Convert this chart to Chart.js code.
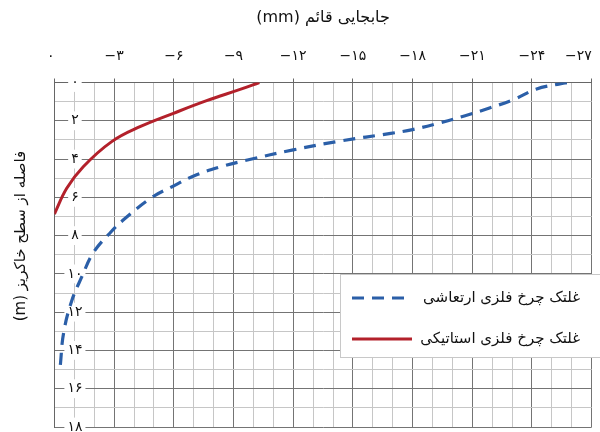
<!DOCTYPE html>
<html>
<head>
<meta charset="utf-8">
<script src="https://cdn.jsdelivr.net/npm/chart.js@4.4.1/dist/chart.umd.min.js"></script>
<style>
  html, body { margin: 0; padding: 0; background: #fff; }
  canvas { display: block; }
</style>
</head>
<body>
<canvas id="settlement" width="600" height="432"></canvas>
<script>
// vertical displacement (mm) vs depth below fill surface (m)
const vibDisp  = [-0.3, -0.46, -0.86, -1.4, -1.95, -2.85, -3.5, -4.9, -6.0, -7.0, -8.3, -9.7, -12.0, -14.4, -16.9, -18.0, -19.4, -20.6, -21.9, -23.1, -24.2, -25.4, -25.8];
const vibDepth = [14.75, 13.1, 11.44, 10.1, 8.9, 7.8, 7.15, 6.0, 5.4, 4.88, 4.42, 4.05, 3.52, 3.05, 2.66, 2.46, 2.1, 1.75, 1.32, 0.88, 0.35, 0.07, 0];

const statDisp  = [0, -0.62, -1.45, -2.88, -4.3, -5.98, -7.65, -9.33, -10.3];
const statDepth = [6.87, 5.53, 4.4, 3.09, 2.31, 1.61, 0.95, 0.36, 0];

const seriesNames = ['غلتک چرخ فلزی ارتعاشی', 'غلتک چرخ فلزی استاتیکی'];
const xTitle = '\u202Bجابجایی قائم (mm)\u202C';
const yTitle = '\u202Bفاصله از سطح خاکریز (m)\u202C';

const xRange = [-27, 0];   // labelled every 3 mm
const yRange = [0, 18];    // labelled every 2 m
const xLabelStep = 3;
const yLabelStep = 2;

const faDigits = '۰۱۲۳۴۵۶۷۸۹';
const fa = v => (v < 0 ? '−' : '') + String(Math.abs(v)).replace(/\d/g, d => faDigits[d]);

const FONT = 'DejaVu Sans';
const MAJOR = '#747474';
const MINOR = '#c6c6c6';

const toPoints = (xs, ys) => xs.map((x, i) => ({ x: x, y: ys[i] }));

// keep the outermost x labels inside the plot width (0 sits left of the border, -27 ends on it)
const edgeLabels = {
  id: 'edgeLabels',
  beforeDraw(chart) {
    chart.scales.x.getLabelItems(chart.chartArea).forEach(item => {
      if (item.label === fa(xRange[0]) || item.label === fa(xRange[1])) item.options.textAlign = 'right';
    });
  }
};

// rotated y title, a little above the middle of the plot
const yAxisTitle = {
  id: 'yAxisTitle',
  afterDraw(chart) {
    const { ctx } = chart;
    ctx.save();
    ctx.translate(21, 236);
    ctx.rotate(-Math.PI / 2);
    ctx.font = '15px "' + FONT + '"';
    ctx.fillStyle = '#111';
    ctx.textAlign = 'center';
    ctx.textBaseline = 'middle';
    ctx.fillText(yTitle, 0, 0);
    ctx.restore();
  }
};

// legend drawn as a white box inside the plot, sample line left of the text
const legendBox = {
  id: 'legendBox',
  afterDatasetsDraw(chart) {
    const { ctx } = chart;
    const left = 340, top = 274, w = 260, h = 84;
    ctx.save();
    ctx.fillStyle = '#fff';
    ctx.fillRect(left, top, w, h);
    ctx.strokeStyle = '#c8c8c8';
    ctx.lineWidth = 1;
    ctx.strokeRect(left + 0.5, top + 0.5, w, h - 1);
    ctx.font = '15px "' + FONT + '"';
    ctx.textAlign = 'right';
    ctx.textBaseline = 'middle';
    chart.data.datasets.forEach((ds, i) => {
      const y = top + 24 + i * 41;
      ctx.beginPath();
      ctx.setLineDash(ds.borderDash || []);
      ctx.strokeStyle = ds.borderColor;
      ctx.lineWidth = ds.borderWidth;
      ctx.moveTo(352, y);
      ctx.lineTo(412, y);
      ctx.stroke();
      ctx.setLineDash([]);
      ctx.fillStyle = '#111';
      ctx.fillText(ds.label, 580, y);
    });
    ctx.restore();
  }
};

new Chart(document.getElementById('settlement'), {
  type: 'line',
  data: {
    datasets: [
      { label: seriesNames[0], data: toPoints(vibDisp, vibDepth), borderColor: '#2b5fa8', borderWidth: 3.2, borderDash: [12, 8] },
      { label: seriesNames[1], data: toPoints(statDisp, statDepth), borderColor: '#b3212b', borderWidth: 3 }
    ]
  },
  options: {
    responsive: false,
    animation: false,
    layout: { autoPadding: false, padding: { right: 8.3, bottom: 5 } },
    elements: { point: { radius: 0 }, line: { tension: 0.4 } },
    plugins: { legend: { display: false }, tooltip: { enabled: false } },
    scales: {
      x: {
        type: 'linear', position: 'top', min: xRange[0], max: xRange[1], reverse: true,
        afterFit: s => { s.height = 82.5; s.paddingLeft = 0; s.paddingRight = 0; },
        title: { display: true, text: xTitle, color: '#111', font: { family: FONT, size: 16 }, padding: { top: 8, bottom: 0 } },
        ticks: {
          stepSize: 1, autoSkip: false, maxRotation: 0, padding: 14, color: '#111',
          font: { family: FONT, size: 14 },
          callback: v => v % xLabelStep === 0 ? fa(v) : ''
        },
        grid: {
          color: c => c.tick && c.tick.value % xLabelStep === 0 ? MAJOR : MINOR,
          tickColor: c => c.tick && c.tick.value % xLabelStep === 0 ? '#666' : 'rgba(0,0,0,0)',
          tickLength: 4
        },
        border: { color: '#666' }
      },
      y: {
        type: 'linear', position: 'left', min: yRange[0], max: yRange[1], reverse: true,
        afterFit: s => { s.width = 54.4; s.paddingTop = 0; s.paddingBottom = 0; },
        title: { display: false },
        ticks: {
          stepSize: 1, autoSkip: false, mirror: true, crossAlign: 'center', padding: 13, color: '#111',
          font: { family: FONT, size: 14 },
          callback: v => v % yLabelStep === 0 ? fa(v) : '',
          showLabelBackdrop: c => c.tick.value % yLabelStep === 0,
          backdropColor: '#fff',
          backdropPadding: { x: 3, y: 1 }
        },
        grid: {
          color: c => c.tick && c.tick.value % yLabelStep === 0 ? MAJOR : MINOR,
          drawTicks: false
        },
        border: { color: '#666' }
      }
    }
  },
  plugins: [edgeLabels, yAxisTitle, legendBox]
});
</script>
</body>
</html>
